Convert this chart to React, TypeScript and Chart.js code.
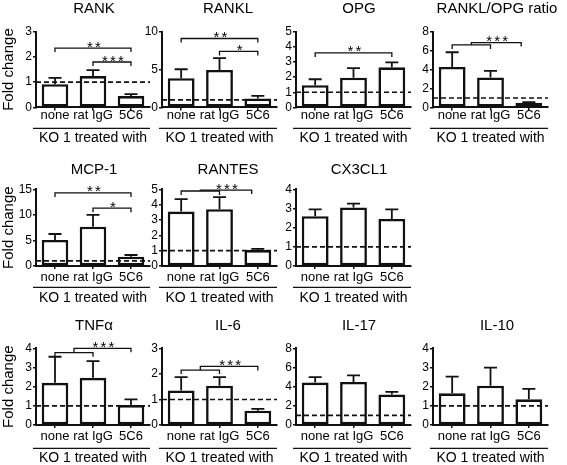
import React, { useEffect, useRef } from 'react';
import { Chart, registerables } from 'chart.js';

Chart.register(...registerables);

const FONT = '"Liberation Sans", Arial, Helvetica, sans-serif';
const INK = '#111111';
Chart.defaults.font.family = FONT;
Chart.defaults.color = '#000000';

// ---- shared labels ----
const GROUPS = ['none', 'rat IgG', '5C6'];
const X_TITLE = 'KO 1 treated with';
const Y_TITLE = 'Fold change';
const REF_LEVEL = 1;

// ---- data: mean, upper error (SEM), y ticks, brackets [from, to, level, stars] ----
const RANK_MEAN = [0.92, 1.24, 0.45];
const RANK_SEM = [0.25, 0.24, 0.08];
const RANK_TICKS = [0, 1, 2, 3];
const RANK_SIG = [[0, 2, 2.35, '**'], [1, 2, 1.8, '***']];

const RANKL_MEAN = [3.85, 4.95, 1.18];
const RANKL_SEM = [1.19, 1.55, 0.35];
const RANKL_TICKS = [0, 5, 10];
const RANKL_SIG = [[0, 2, 9.1, '**'], [1, 2, 7.4, '*']];

const OPG_MEAN = [1.47, 1.96, 2.65];
const OPG_SEM = [0.39, 0.64, 0.32];
const OPG_TICKS = [0, 1, 2, 3, 4, 5];
const OPG_SIG = [[0, 2, 3.6, '**']];

const RATIO_MEAN = [4.27, 3.17, 0.48];
const RATIO_SEM = [1.56, 0.69, 0.07];
const RATIO_TICKS = [0, 2, 4, 6, 8];
const RATIO_SIG = [[0, 1, 6.6, ''], [0.5, 1.8, 6.85, '***']];

const MCP1_MEAN = [5.09, 7.7, 1.83];
const MCP1_SEM = [1.17, 2.28, 0.32];
const MCP1_TICKS = [0, 5, 10, 15];
const MCP1_SIG = [[0, 2, 14.3, '**'], [1, 2, 11.3, '*']];

const RANTES_MEAN = [3.55, 3.7, 1.04];
const RANTES_SEM = [0.81, 0.79, 0.07];
const RANTES_TICKS = [0, 1, 2, 3, 4, 5];
const RANTES_SIG = [[0, 1, 4.89, ''], [0.5, 1.84, 4.95, '***']];

const CX3CL1_MEAN = [2.6, 3.05, 2.45];
const CX3CL1_SEM = [0.35, 0.2, 0.5];
const CX3CL1_TICKS = [0, 1, 2, 3, 4];

const TNFA_MEAN = [2.2, 2.46, 1.04];
const TNFA_SEM = [1.36, 0.87, 0.3];
const TNFA_TICKS = [0, 1, 2, 3, 4];
const TNFA_SIG = [[0, 1, 3.77, ''], [0.5, 2, 4.0, '***']];

const IL6_MEAN = [1.35, 1.54, 0.56];
const IL6_SEM = [0.52, 0.33, 0.07];
const IL6_TICKS = [0, 1, 2, 3];
const IL6_SIG = [[0, 1, 2.15, ''], [0.5, 2, 2.29, '***']];

const IL17_MEAN = [4.42, 4.49, 3.17];
const IL17_SEM = [0.58, 0.69, 0.28];
const IL17_TICKS = [0, 2, 4, 6, 8];

const IL10_MEAN = [1.65, 2.05, 1.34];
const IL10_SEM = [0.87, 0.94, 0.54];
const IL10_TICKS = [0, 1, 2, 3, 4];

// ---- layout (pixels) ----
const ROW_TOP = [0, 158, 316];
const ROW_H = 150;
const ROW_PLOT_TOP = [31.7, 31.3, 32.3];
const ROW_PLOT_BOTTOM = [107.4, 108, 109];
const ROW_TITLE_BASE = [12.7, 15.5, 14];
const ROW_LABEL_PAD = [-2.6, 0.7, 0.7];
const ROW_UNDERLINE = [21, 21.3, 23.3];
const ROW_KO_PAD = [3.05, 1.75, -0.25];

const COL_AXIS_X = [36, 162, 296, 433];
const COL_AXIS_W = [36, 26, 26, 26];
const COL_PLOT_W = [114, 115, 115, 115];
const COL_TITLE_X = [94, 228, 359, 497];
const RIGHT_PAD = 20;

const PANELS = [
  { title: 'RANK', row: 0, col: 0, mean: RANK_MEAN, sem: RANK_SEM, ticks: RANK_TICKS, sig: RANK_SIG },
  { title: 'RANKL', row: 0, col: 1, mean: RANKL_MEAN, sem: RANKL_SEM, ticks: RANKL_TICKS, sig: RANKL_SIG },
  { title: 'OPG', row: 0, col: 2, mean: OPG_MEAN, sem: OPG_SEM, ticks: OPG_TICKS, sig: OPG_SIG },
  { title: 'RANKL/OPG ratio', row: 0, col: 3, mean: RATIO_MEAN, sem: RATIO_SEM, ticks: RATIO_TICKS, sig: RATIO_SIG },
  { title: 'MCP-1', row: 1, col: 0, mean: MCP1_MEAN, sem: MCP1_SEM, ticks: MCP1_TICKS, sig: MCP1_SIG },
  { title: 'RANTES', row: 1, col: 1, mean: RANTES_MEAN, sem: RANTES_SEM, ticks: RANTES_TICKS, sig: RANTES_SIG },
  { title: 'CX3CL1', row: 1, col: 2, mean: CX3CL1_MEAN, sem: CX3CL1_SEM, ticks: CX3CL1_TICKS, sig: [] },
  { title: 'TNFα', row: 2, col: 0, mean: TNFA_MEAN, sem: TNFA_SEM, ticks: TNFA_TICKS, sig: TNFA_SIG },
  { title: 'IL-6', row: 2, col: 1, mean: IL6_MEAN, sem: IL6_SEM, ticks: IL6_TICKS, sig: IL6_SIG },
  { title: 'IL-17', row: 2, col: 2, mean: IL17_MEAN, sem: IL17_SEM, ticks: IL17_TICKS, sig: [] },
  { title: 'IL-10', row: 2, col: 3, mean: IL10_MEAN, sem: IL10_SEM, ticks: IL10_TICKS, sig: [] },
];

const panelExtras = {
  id: 'panelExtras',
  afterDatasetsDraw(chart: any, _args: any, opts: any) {
    const ctx = chart.ctx;
    const { left, right } = chart.chartArea;
    const xs = chart.scales.x;
    const ys = chart.scales.y;
    ctx.save();
    ctx.strokeStyle = INK;
    ctx.fillStyle = '#000';

    // dashed reference line at fold change = 1
    const yr = ys.getPixelForValue(REF_LEVEL);
    ctx.setLineDash([5, 3]);
    ctx.lineWidth = 1.6;
    ctx.beginPath();
    ctx.moveTo(left, yr);
    ctx.lineTo(right, yr);
    ctx.stroke();
    ctx.setLineDash([]);

    // upper error bars
    const meta = chart.getDatasetMeta(0);
    ctx.lineWidth = 1.8;
    meta.data.forEach((bar: any, i: number) => {
      const yTop = ys.getPixelForValue(opts.mean[i] + opts.sem[i]);
      ctx.beginPath();
      ctx.moveTo(bar.x, bar.y);
      ctx.lineTo(bar.x, yTop);
      ctx.moveTo(bar.x - 6.5, yTop);
      ctx.lineTo(bar.x + 6.5, yTop);
      ctx.stroke();
    });

    // significance brackets
    const sig = opts.sig || [];
    ctx.lineWidth = 1.3;
    sig.forEach((b: any) => {
      const x1 = xs.getPixelForValue(b[0]);
      const x2 = xs.getPixelForValue(b[1]);
      const yb = ys.getPixelForValue(b[2]);
      const dropFor = (v: number) => {
        const lower = sig.find((o: any) => o !== b && o[2] < b[2] && o[0] < v && v < o[1]);
        return lower ? ys.getPixelForValue(lower[2]) : yb + 4;
      };
      ctx.beginPath();
      ctx.moveTo(x1, dropFor(b[0]));
      ctx.lineTo(x1, yb);
      ctx.lineTo(x2, yb);
      ctx.lineTo(x2, dropFor(b[1]));
      ctx.stroke();
      const label = b[3];
      if (label) {
        ctx.font = '15px ' + FONT;
        ctx.textAlign = 'center';
        ctx.textBaseline = 'alphabetic';
        const cx = (x1 + x2) / 2 + 1;
        const step = 8;
        const n = label.length;
        for (let k = 0; k < n; k++) {
          ctx.fillText('*', cx - ((n - 1) * step) / 2 + k * step, yb + 3.6);
        }
      }
    });
    ctx.restore();
  },
  afterDraw(chart: any, _args: any, opts: any) {
    const ctx = chart.ctx;
    const { left, right, bottom } = chart.chartArea;
    ctx.save();
    // line under the group labels
    ctx.strokeStyle = INK;
    ctx.lineWidth = 1.2;
    ctx.beginPath();
    ctx.moveTo(left - 3, bottom + opts.underline);
    ctx.lineTo(right, bottom + opts.underline);
    ctx.stroke();
    // panel title
    ctx.fillStyle = '#000';
    ctx.font = '15px ' + FONT;
    ctx.textAlign = 'center';
    ctx.textBaseline = 'alphabetic';
    ctx.fillText(opts.title, opts.titleX, opts.titleY);
    ctx.restore();
  },
};

function geometry(p: any) {
  const axisW = COL_AXIS_W[p.col];
  const left = COL_AXIS_X[p.col] - axisW;
  const width = axisW + COL_PLOT_W[p.col] + RIGHT_PAD;
  return { axisW, left, width, top: ROW_TOP[p.row], height: ROW_H };
}

function buildConfig(p: any): any {
  const r = p.row;
  const c = p.col;
  const g = geometry(p);
  const xAxisH = ROW_H - ROW_PLOT_BOTTOM[r];
  return {
    type: 'bar',
    data: {
      labels: GROUPS,
      datasets: [
        {
          data: p.mean,
          backgroundColor: '#ffffff',
          borderColor: INK,
          borderWidth: 2.6,
          borderSkipped: false,
          barPercentage: 0.7,
          categoryPercentage: 1,
        },
      ],
    },
    options: {
      responsive: false,
      animation: false,
      devicePixelRatio: 1,
      events: [],
      layout: { padding: { top: ROW_PLOT_TOP[r], right: RIGHT_PAD, bottom: 0, left: 0 } },
      plugins: {
        legend: { display: false },
        tooltip: { enabled: false },
        title: { display: false },
        panelExtras: {
          title: p.title,
          titleX: COL_TITLE_X[c] - g.left,
          titleY: ROW_TITLE_BASE[r],
          mean: p.mean,
          sem: p.sem,
          sig: p.sig,
          underline: ROW_UNDERLINE[r],
        },
      },
      scales: {
        x: {
          grid: { drawOnChartArea: false, drawTicks: true, tickLength: 3, offset: false, color: INK, lineWidth: 1.5 },
          border: { display: true, color: INK, width: 2 },
          ticks: {
            color: '#000',
            font: { size: 13 },
            padding: ROW_LABEL_PAD[r],
            maxRotation: 0,
            minRotation: 0,
            autoSkip: false,
          },
          title: {
            display: true,
            text: X_TITLE,
            color: '#000',
            font: { size: 14 },
            padding: { top: 0, bottom: ROW_KO_PAD[r] },
          },
          afterFit: (s: any) => {
            s.height = xAxisH;
          },
        },
        y: {
          min: 0,
          max: p.ticks[p.ticks.length - 1],
          afterBuildTicks: (s: any) => {
            s.ticks = p.ticks.map((v: number) => ({ value: v }));
          },
          grid: { drawOnChartArea: false, drawTicks: true, tickLength: 3, color: INK, lineWidth: 1.5 },
          border: { display: true, color: INK, width: 2 },
          ticks: { color: '#000', font: { size: 12 }, padding: 1, autoSkip: false },
          title: {
            display: c === 0,
            text: Y_TITLE,
            color: '#000',
            font: { size: 15 },
            padding: 0,
          },
          afterFit: (s: any) => {
            s.width = g.axisW;
          },
        },
      },
    },
    plugins: [panelExtras],
  };
}

function Panel({ p }: { p: any }) {
  const ref = useRef<HTMLCanvasElement | null>(null);
  const g = geometry(p);
  useEffect(() => {
    if (!ref.current) return;
    const chart = new Chart(ref.current, buildConfig(p));
    return () => chart.destroy();
  }, [p]);
  return (
    <canvas
      ref={ref}
      width={g.width}
      height={g.height}
      style={{ position: 'absolute', left: g.left, top: g.top, width: g.width, height: g.height }}
    />
  );
}

export default function App() {
  return (
    <div
      style={{
        position: 'absolute',
        left: 0,
        top: 0,
        width: 567,
        height: 465,
        overflow: 'hidden',
        background: '#ffffff',
      }}
    >
      {PANELS.map((p) => (
        <Panel key={p.title} p={p} />
      ))}
    </div>
  );
}
